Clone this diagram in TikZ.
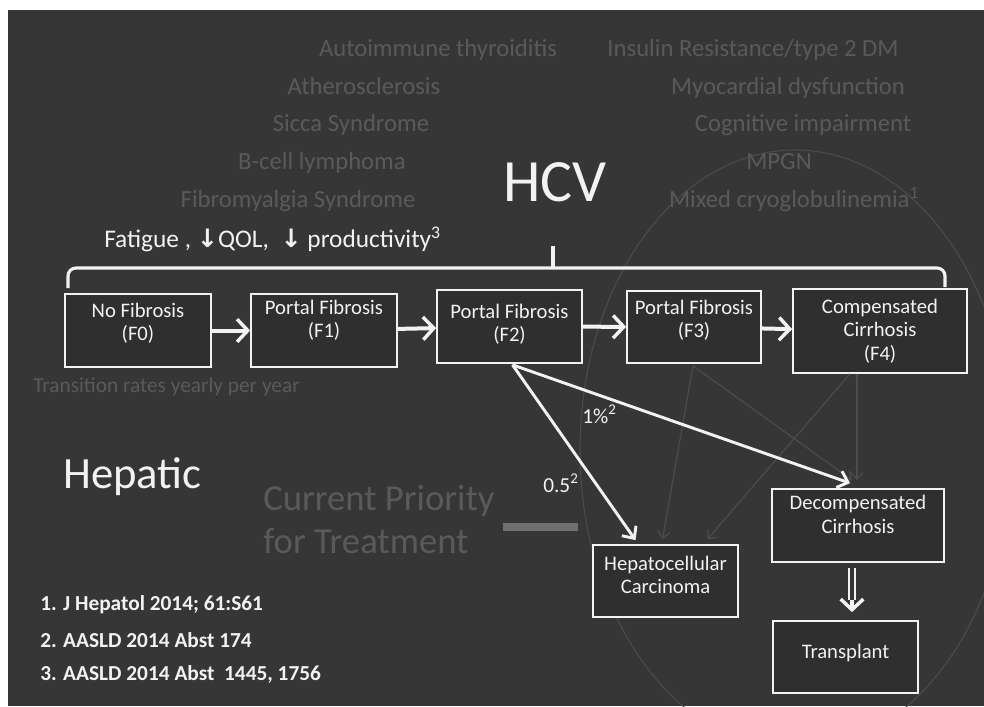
\documentclass[tikz,border=0pt]{standalone}
\usepackage{fontspec}
\setmainfont{Carlito}
\newfontfamily\symfont{DejaVu Sans}
\usetikzlibrary{arrows.meta,calc}

\definecolor{slide}{HTML}{363636}
\definecolor{boxfill}{HTML}{2F2F2F}
\definecolor{ink}{HTML}{F2F2F2}
\definecolor{ghost}{HTML}{5A5A5A}
\definecolor{ghostline}{HTML}{4C4C4C}
\definecolor{barfill}{HTML}{707070}

\tikzset{
  stage/.style={draw=ink, line width=1.3pt, fill=boxfill, inner sep=0pt},
  stagetext/.style={text=ink, align=center, inner sep=0pt,
    font=\fontsize{15.5}{17.5}\selectfont},
  flow/.style={draw=ink, line width=3pt,
    -{Straight Barb[length=8pt,width=17pt,line width=2.6pt]}},
  branch/.style={draw=ink, line width=2.2pt,
    -{Straight Barb[length=7pt,width=13pt,line width=2.2pt]}},
  faintline/.style={draw=ghostline, line width=0.9pt,
    -{Straight Barb[length=5pt,width=9pt]}},
  comorb/.style={text=ghost, anchor=base, inner sep=0pt,
    font=\fontsize{18.5}{20}\selectfont},
  refline/.style={text=ink, anchor=base west, inner sep=0pt,
    font=\bfseries\fontsize{16}{18}\selectfont},
  rate/.style={text=ink, anchor=base west, inner sep=0pt,
    font=\fontsize{16}{18}\selectfont},
}

\begin{document}
\begin{tikzpicture}[x=0.75pt,y=-0.75pt]
\useasboundingbox (0,0) rectangle (984,706);

% slide background
\fill[white] (0,0) rectangle (984,706);
\fill[slide] (8,10) rectangle (984,706);

% faint outline behind the late-stage outcomes
\begin{scope}
  \clip (8,10) rectangle (984,706);
  \draw[ghostline, line width=0.8pt] (795,450) ellipse [x radius=161.25pt, y radius=225pt];
\end{scope}

% extra-hepatic manifestations (dimmed)
\node[comorb] (c1) at (438,57)  {Autoimmune thyroiditis};
\node[comorb] (c2) at (364,95)  {Atherosclerosis};
\node[comorb] (c3) at (351,132) {Sicca Syndrome};
\node[comorb] (c4) at (322,170) {B-cell lymphoma};
\node[comorb] (c5) at (298,207) {Fibromyalgia Syndrome};
\node[comorb] (c6) at (753,57)  {Insulin Resistance/type 2 DM};
\node[comorb] (c7) at (788,95)  {Myocardial dysfunction};
\node[comorb] (c8) at (803,132) {Cognitive impairment};
\node[comorb] (c9) at (779,170) {MPGN};
\node[comorb] (c10) at (794,207) {Mixed cryoglobulinemia\textsuperscript{1}};

% title and symptom line
\node[text=ink, anchor=base, inner sep=0pt, font=\fontsize{45}{50}\selectfont] (hcv) at (555,201) {HCV};
\node[text=ink, anchor=base west, inner sep=0pt, font=\fontsize{19}{21}\selectfont] (sym) at (104,247)
  {Fatigue , {\symfont\bfseries ↓}QOL, \ {\symfont\bfseries ↓} productivity\textsuperscript{3}};

% fibrosis stages
\node[stage, minimum width=109.5pt, minimum height=54.75pt] (f0) at (138,330.5) {};
\node[stage, minimum width=109.5pt, minimum height=54.75pt] (f1) at (324,330.5) {};
\node[stage, minimum width=108.75pt, minimum height=54.75pt] (f2) at (509.5,326.5) {};
\node[stage, minimum width=100.5pt, minimum height=54pt] (f3) at (694,327) {};
\node[stage, minimum width=130.5pt, minimum height=63pt] (f4) at (880,331) {};

\node[stagetext] (f0t) at ($(f0)+(0,-7)$) {No Fibrosis\\(F0)};
\node[stagetext] (f1t) at ($(f1)+(0,-10)$) {Portal Fibrosis\\(F1)};
\node[stagetext] (f2t) at ($(f2)+(0,-2)$) {Portal Fibrosis\\(F2)};
\node[stagetext] (f3t) at ($(f3)+(0,-7)$) {Portal Fibrosis\\(F3)};
\node[stagetext] (f4t) at ($(f4)+(0,0)$) {Compensated\\Cirrhosis\\(F4)};

% outcomes
\node[stage, minimum width=108.75pt, minimum height=54pt] (hcc) at (665.5,581) {};
\node[stage, minimum width=129pt, minimum height=54.75pt] (dec) at (858,525.5) {};
\node[stage, minimum width=108.75pt, minimum height=54pt] (tx) at (845.5,657) {};

\node[stagetext] (hcct) at ($(hcc)+(0,-6)$) {Hepatocellular\\Carcinoma};
\node[stagetext] (dect) at ($(dec)+(0,-11)$) {Decompensated\\Cirrhosis};
\node[stagetext] (txt) at ($(tx)+(0,-4)$) {Transplant};

% bracket spanning all stages
\coordinate (brL) at (68,288);
\coordinate (brM) at (553,268);
\coordinate (brR) at (945,287);
\coordinate (brTop) at (553,246);
\draw[ink, line width=2.3pt, rounded corners=6pt] (brL) |- (brM) -| (brR);
\draw[ink, line width=2.3pt] (brM) -- (brTop);

% progression arrows
\draw[flow] (f0) -- (f1);
\draw[flow] (f1) -- (f2);
\draw[flow] (f2) -- (f3);
\draw[flow] (f3) -- (f4);

% dimmed transitions from F3 and F4
\coordinate (f3b) at ($(f3.south)+(-1,2)$);
\coordinate (f4bl) at ($(f4.south)+(-30,0)$);
\coordinate (f4bv) at ($(f4.south)+(-23,0)$);
\draw[faintline] (f3b) -- ($(hcc.north)+(-3,-5)$);
\draw[faintline] (f3b) -- ($(dec.north)+(-6,-8)$);
\draw[faintline] (f4bl) -- ($(hcc.north)+(42,-5)$);
\draw[faintline] (f4bv) -- ($(dec.north)+(-1,-8)$);

% transitions from F2
\coordinate (f2b) at ($(f2.south)+(3,1)$);
\draw[branch] (f2b) -- ($(hcc.north)+(-30,-4)$);
\draw[branch] (f2b) -- ($(dec.north)+(-8,-5)$);
\node[rate] (r1) at (582,423) {1\%\textsuperscript{2}};
\node[rate] (r2) at (543,492) {0.5\textsuperscript{2}};

% decompensation leads to transplant: double shaft with a bold head
\coordinate (dxs) at ($(dec.south)+(-6,5)$);
\coordinate (dxm) at ($(tx.north)+(6.5,-20)$);
\coordinate (dxe) at ($(tx.north)+(6.5,-8)$);
\draw[draw=ink, line width=1.3pt, double=slide, double distance=3pt] (dxs) -- (dxm);
\draw[ink, line width=2.6pt, -{Straight Barb[length=8pt,width=17pt,line width=2.6pt]}] (dxm) -- (dxe);

% side labels
\node[text=ghost, anchor=base west, inner sep=0pt, font=\fontsize{16}{18}\selectfont] (trans) at (33,392)
  {Transition rates yearly per year};
\node[text=ink, anchor=base west, inner sep=0pt, font=\fontsize{33.5}{38}\selectfont] (hep) at (63,488) {Hepatic};
\node[text=ghost, anchor=base west, inner sep=0pt, font=\fontsize{27.5}{32.5}\selectfont] (prio) at (263,510)
  {Current Priority};
\node[text=ghost, anchor=base west, inner sep=0pt, font=\fontsize{27.5}{32.5}\selectfont] (prio2) at (263,553)
  {for Treatment};
\fill[barfill] (503,523) rectangle (578,531);

% references
\node[refline] (ref1) at (40,610) {1. J Hepatol 2014; 61:S61};
\node[refline] (ref2) at (40,647) {2. AASLD 2014 Abst 174};
\node[refline] (ref3) at (40,680) {3. AASLD 2014 Abst \ 1445, 1756};
\end{tikzpicture}
\end{document}
